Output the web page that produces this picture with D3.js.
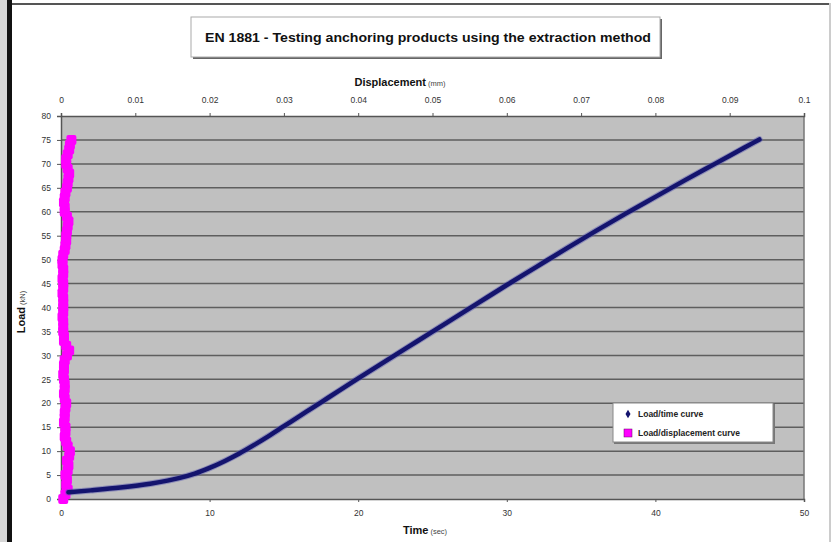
<!DOCTYPE html>
<html>
<head>
<meta charset="utf-8">
<script src="https://cdn.jsdelivr.net/npm/d3@7"></script>
<style>
	body { margin: 0; background: #ffffff; }
	svg { display: block; font-family: "Liberation Sans", Arial, sans-serif; }
	.axis path, .axis line { stroke: #555; }
	.axis text { fill: #333; font-size: 8.5px; }
</style>
</head>
<body>
<script>
// load / time curve
var timeSec = [0.5, 2, 4, 6, 8, 9, 10, 11, 12, 13, 14, 15, 16, 17, 18, 20, 22, 24, 26, 28, 30, 32, 34, 36, 38, 40, 42, 44, 46, 47];
var timeLoad = [1.4, 1.8, 2.4, 3.2, 4.4, 5.3, 6.5, 7.9, 9.5, 11.3, 13.2, 15.2, 17.2, 19.2, 21.2, 25.2, 29.1, 33.0, 36.9, 40.8, 44.7, 48.5, 52.3, 56.0, 59.6, 63.1, 66.6, 70.0, 73.4, 75.1];

// load / displacement curve
var dispLoad = [0, 1, 2, 3, 4, 5, 6, 7, 8, 9, 10, 11, 12, 13, 14, 15, 16, 17, 18, 19, 20, 21, 22, 23, 24, 25, 26, 27, 28, 29, 30, 31, 32, 33, 34, 35, 36, 37, 38, 39, 40, 41, 42, 43, 44, 45, 46, 47, 48, 49, 50, 51, 52, 53, 54, 55, 56, 57, 58, 59, 60, 61, 62, 63, 64, 65, 66, 67, 68, 69, 70, 71, 72, 73, 74, 75];
var dispMm = [0.0003, 0.0006, 0.0009, 0.0007, 0.0008, 0.0006, 0.0009, 0.0010, 0.0008, 0.0011, 0.0012, 0.0009, 0.0007, 0.0005, 0.0006, 0.0006, 0.0004, 0.0005, 0.0005, 0.0006,
	0.0007, 0.0005, 0.0004, 0.0005, 0.0005, 0.0004, 0.0003, 0.0004, 0.0004, 0.0005, 0.0008, 0.0011, 0.0007, 0.0004, 0.0004, 0.0003, 0.0003, 0.0003, 0.0002, 0.0003,
	0.0003, 0.0003, 0.0003, 0.0002, 0.0003, 0.0003, 0.0002, 0.0003, 0.0003, 0.0002, 0.0002, 0.0003, 0.0005, 0.0006, 0.0007, 0.0007, 0.0008, 0.0009, 0.0010, 0.0008,
	0.0005, 0.0005, 0.0004, 0.0005, 0.0006, 0.0008, 0.0009, 0.0010, 0.0011, 0.0009, 0.0007, 0.0007, 0.0009, 0.0011, 0.0012, 0.0014];

// axis ticks
var timeTicks = [0, 10, 20, 30, 40, 50];
var dispTicks = [0, 0.01, 0.02, 0.03, 0.04, 0.05, 0.06, 0.07, 0.08, 0.09, 0.1];
var loadTicks = [0, 5, 10, 15, 20, 25, 30, 35, 40, 45, 50, 55, 60, 65, 70, 75, 80];

var seriesNames = ["Load/time curve", "Load/displacement curve"];

// basic variables
var width = 831,
	height = 542,
	plot = { left: 61, right: 804, top: 116, bottom: 499 },
	navy = "#14146e",
	magenta = "#ff00ff";

var svg = d3.select("body")
	.append("svg")
		.attr("width", width)
		.attr("height", height);

// outer frame
svg.append("rect").attr("x", 0).attr("y", 0).attr("width", 7).attr("height", height).attr("fill", "#d6d6d6");
svg.append("rect").attr("x", 7).attr("y", 0).attr("width", 5).attr("height", height).attr("fill", "#111");
svg.append("rect").attr("x", 12).attr("y", 3).attr("width", width - 12).attr("height", 2).attr("fill", "#555");
svg.append("rect").attr("x", width - 2).attr("y", 3).attr("width", 2).attr("height", height).attr("fill", "#ccc");

// scales
var time_scale = d3.scaleLinear().domain([0, 50]).range([plot.left, plot.right]);
var disp_scale = d3.scaleLinear().domain([0, 0.1]).range([plot.left, plot.right]);
var load_scale = d3.scaleLinear().domain([0, 80]).range([plot.bottom, plot.top]);

// plot area
svg.append("rect")
	.attr("x", plot.left)
	.attr("y", plot.top)
	.attr("width", plot.right - plot.left)
	.attr("height", plot.bottom - plot.top)
	.attr("fill", "#c0c0c0");

// horizontal grid lines
svg.append("g")
	.selectAll("line")
	.data(loadTicks.slice(1, -1))
	.enter()
	.append("line")
		.attr("x1", plot.left)
		.attr("x2", plot.right)
		.attr("y1", function(d) { return load_scale(d); })
		.attr("y2", function(d) { return load_scale(d); })
		.attr("stroke", "#5e5e5e")
		.attr("stroke-width", 1.5);

// right border
svg.append("line").attr("x1", plot.right).attr("x2", plot.right).attr("y1", plot.top).attr("y2", plot.bottom).attr("stroke", "#777").attr("stroke-width", 1.5);

// axes
var time_axis = d3.axisBottom(time_scale)
	.tickValues(timeTicks)
	.tickSize(3)
	.tickPadding(8)
	.tickFormat(function(d) { return String(d); });

var disp_axis = d3.axisTop(disp_scale)
	.tickValues(dispTicks)
	.tickSize(3)
	.tickPadding(10)
	.tickFormat(function(d) { return String(d); });

var load_axis = d3.axisLeft(load_scale)
	.tickValues(loadTicks)
	.tickSize(4)
	.tickPadding(6)
	.tickFormat(function(d) { return String(d); });

svg.append("g")
	.attr("class", "x axis")
	.attr("transform", "translate(0," + plot.bottom + ")")
	.call(time_axis);

svg.append("g")
	.attr("class", "x2 axis")
	.attr("transform", "translate(0," + plot.top + ")")
	.call(disp_axis);

svg.append("g")
	.attr("class", "y axis")
	.attr("transform", "translate(" + plot.left + ",0)")
	.call(load_axis);

svg.selectAll(".axis .domain").attr("stroke-width", 1.5);

// load / displacement markers
svg.append("g")
	.selectAll("rect")
	.data(dispLoad)
	.enter()
	.append("rect")
		.attr("x", function(d, i) { return disp_scale(dispMm[i]) - 5; })
		.attr("y", function(d) { return load_scale(d) - 5; })
		.attr("width", 10)
		.attr("height", 10)
		.attr("rx", 2)
		.attr("fill", magenta);

// load / time line
var line = d3.line()
	.x(function(d, i) { return time_scale(timeSec[i]); })
	.y(function(d) { return load_scale(d); })
	.curve(d3.curveMonotoneX);

svg.append("path")
	.datum(timeLoad)
	.attr("d", line)
	.attr("fill", "none")
	.attr("stroke", "#5b5bb0")
	.attr("stroke-width", 6.5)
	.attr("stroke-linecap", "round")
	.attr("opacity", 0.5);

svg.append("path")
	.datum(timeLoad)
	.attr("d", line)
	.attr("fill", "none")
	.attr("stroke", navy)
	.attr("stroke-width", 4.5)
	.attr("stroke-linecap", "round");

// chart title box
svg.append("rect").attr("x", 193).attr("y", 19).attr("width", 469).attr("height", 40).attr("fill", "#666");
svg.append("rect").attr("x", 191).attr("y", 17).attr("width", 469).attr("height", 40).attr("fill", "#fff").attr("stroke", "#aaa");

svg.append("text")
	.attr("x", 428)
	.attr("y", 42)
	.attr("text-anchor", "middle")
	.attr("font-size", 13)
	.attr("font-weight", "bold")
	.attr("fill", "#111")
	.attr("textLength", 446)
	.attr("lengthAdjust", "spacingAndGlyphs")
	.text("EN 1881 - Testing anchoring products using the extraction method");

// axis titles
var disp_title = svg.append("text")
	.attr("x", 400)
	.attr("y", 86)
	.attr("text-anchor", "middle")
	.attr("fill", "#111");
disp_title.append("tspan").attr("font-size", 11).attr("font-weight", "bold").text("Displacement");
disp_title.append("tspan").attr("font-size", 7.5).attr("fill", "#444").text(" (mm)");

var time_title = svg.append("text")
	.attr("x", 425)
	.attr("y", 534)
	.attr("text-anchor", "middle")
	.attr("fill", "#111");
time_title.append("tspan").attr("font-size", 11).attr("font-weight", "bold").text("Time");
time_title.append("tspan").attr("font-size", 7.5).attr("fill", "#444").text(" (sec)");

var load_title = svg.append("text")
	.attr("transform", "translate(25,312) rotate(-90)")
	.attr("text-anchor", "middle")
	.attr("fill", "#111");
load_title.append("tspan").attr("font-size", 11).attr("font-weight", "bold").text("Load");
load_title.append("tspan").attr("font-size", 7.5).attr("fill", "#444").text(" (kN)");

// legend
var legend = svg.append("g").attr("class", "legend");
legend.append("rect").attr("x", 614).attr("y", 404).attr("width", 161).attr("height", 40).attr("fill", "#777");
legend.append("rect").attr("x", 613).attr("y", 403).attr("width", 160).attr("height", 39).attr("fill", "#fff").attr("stroke", "#888");

legend.append("path")
	.attr("d", d3.symbol().type(d3.symbolDiamond).size(22)())
	.attr("transform", "translate(628,414)")
	.attr("fill", navy);
legend.append("rect")
	.attr("x", 624).attr("y", 429).attr("width", 8).attr("height", 8)
	.attr("fill", magenta)
	.attr("stroke", "#660066")
	.attr("stroke-width", 0.5);

legend.selectAll("text.entry")
	.data(seriesNames)
	.enter()
	.append("text")
		.attr("class", "entry")
		.attr("x", 638)
		.attr("y", function(d, i) { return 417 + i * 19; })
		.attr("font-size", 8.5)
		.attr("font-weight", "bold")
		.attr("fill", "#222")
		.text(function(d) { return d; });
</script>
</body>
</html>
